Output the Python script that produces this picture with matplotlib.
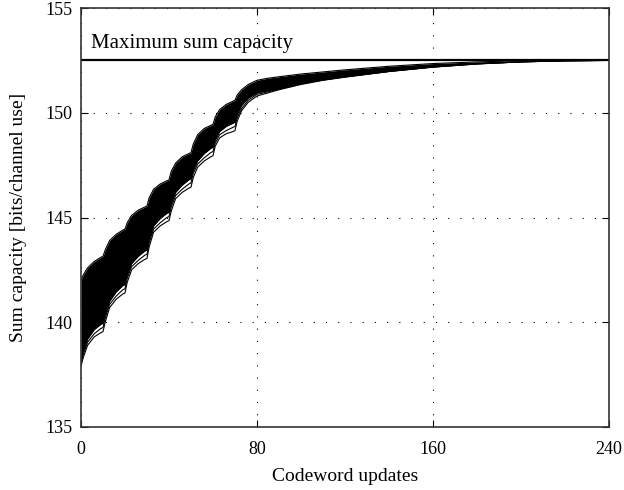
import numpy as np
import matplotlib
matplotlib.use('Agg')
import matplotlib.pyplot as plt

plt.rcParams['font.family'] = ['Liberation Serif', 'DejaVu Serif']

updates = [0, 1, 3, 6, 9, 10, 11, 13, 16, 19, 20, 21, 23, 26, 29, 30, 31, 33,
           36, 39, 40, 41, 43, 46, 49, 50, 51, 53, 56, 59, 60, 61, 63, 66, 69,
           70, 71, 73, 76, 80, 85, 90, 100, 110, 120, 140, 160, 180, 200, 220,
           240]

# upper edge of the bundle of sum-capacity curves
upper = [142.0, 142.25, 142.6, 142.9, 143.1, 143.15,
         143.45, 143.9, 144.2, 144.4, 144.45,
         144.75, 145.1, 145.35, 145.5, 145.55,
         145.95, 146.35, 146.6, 146.75, 146.8,
         147.2, 147.6, 147.9, 148.05, 148.1,
         148.5, 148.95, 149.25, 149.4, 149.45,
         149.8, 150.15, 150.4, 150.55, 150.6,
         150.85, 151.1, 151.35, 151.55,
         151.65, 151.72, 151.85, 151.95, 152.05, 152.22, 152.35, 152.43,
         152.48, 152.5, 152.52]

# bottom of the dense part of the bundle
core_lower = [138.2, 138.6, 139.2, 139.65, 139.9, 139.95,
              140.35, 141.0, 141.45, 141.75, 141.8,
              142.25, 142.8, 143.15, 143.4, 143.45,
              143.95, 144.6, 144.95, 145.2, 145.25,
              145.65, 146.2, 146.55, 146.8, 146.85,
              147.25, 147.7, 148.05, 148.3, 148.35,
              148.7, 149.1, 149.35, 149.5, 149.55,
              149.9, 150.35, 150.7, 150.95,
              151.05, 151.15, 151.4, 151.58, 151.72, 151.98, 152.19, 152.34,
              152.43, 152.48, 152.5]

# second lowest curve
second_lowest = [138.05, 138.45, 139.05, 139.45, 139.7, 139.75,
                 140.2, 140.85, 141.25, 141.55, 141.6,
                 142.1, 142.65, 142.95, 143.2, 143.25,
                 143.8, 144.45, 144.75, 145.0, 145.05,
                 145.5, 146.05, 146.35, 146.6, 146.65,
                 147.1, 147.55, 147.85, 148.1, 148.15,
                 148.55, 148.95, 149.15, 149.3, 149.35,
                 149.75, 150.2, 150.6, 150.88,
                 151.0, 151.12, 151.38, 151.56, 151.71, 151.97, 152.18, 152.33,
                 152.43, 152.48, 152.5]

# lowest curve
lowest = [137.9, 138.3, 138.9, 139.3, 139.5, 139.55,
          140.0, 140.7, 141.1, 141.35, 141.4,
          141.9, 142.5, 142.8, 143.0, 143.05,
          143.6, 144.3, 144.6, 144.8, 144.85,
          145.3, 145.9, 146.2, 146.4, 146.45,
          146.9, 147.4, 147.7, 147.9, 147.95,
          148.4, 148.8, 149.0, 149.1, 149.15,
          149.6, 150.1, 150.5, 150.8,
          150.95, 151.1, 151.35, 151.55, 151.7, 151.97, 152.18, 152.33,
          152.43, 152.48, 152.5]

max_capacity = 152.5

fig = plt.figure(figsize=(6.24, 4.9), dpi=100)
ax = fig.add_axes([0.1298, 0.1286, 0.8462, 0.855])

ax.fill_between(updates, core_lower, upper, color='black', lw=0)
ax.plot(updates, upper, color='black', lw=0.8)
for curve in [core_lower, second_lowest, lowest]:
    ax.plot(updates, curve, color='black', lw=0.8)

ax.axhline(max_capacity, color='black', lw=1.6)
ax.text(4.5, 153.1, 'Maximum sum capacity', fontsize=15, va='baseline', ha='left')

ax.set_xlim(0, 240)
ax.set_ylim(135, 155)
ax.set_xticks([0, 80, 160, 240])
ax.set_yticks([135, 140, 145, 150, 155])
ax.grid(True, color='black', linestyle=(0, (1, 10)), lw=0.8)
ax.tick_params(direction='in', top=True, right=True, labelsize=13, length=5)
ax.tick_params(axis='x', pad=10)
ax.tick_params(axis='y', pad=6)
ax.set_xlabel('Codeword updates', fontsize=14, labelpad=7)
ax.set_ylabel('Sum capacity [bits/channel use]', fontsize=14, labelpad=13)
for s in ax.spines.values():
    s.set_color('#333333')
    s.set_linewidth(1.2)

fig.savefig('out.png', dpi=100)
